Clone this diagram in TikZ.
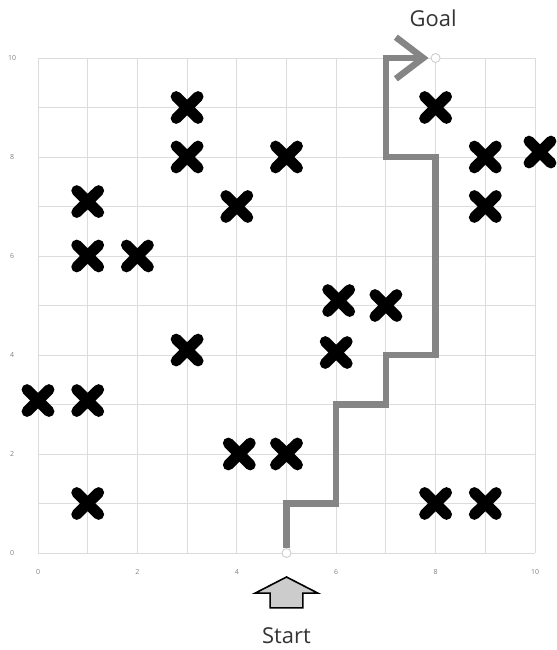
\documentclass[tikz,border=0pt]{standalone}
\usepackage{fontspec}
\setmainfont{Open Sans}
\definecolor{gridc}{HTML}{DCDCDC}
\definecolor{pathc}{HTML}{858585}
\definecolor{labc}{HTML}{333333}
\begin{document}
\begin{tikzpicture}[x=49.7bp,y=49.5bp,
  cross/.style={line width=11bp,line cap=round,black},
  route/.style={line width=6.5bp,pathc,line join=miter},
  ticklab/.style={font=\fontsize{7}{8}\selectfont,text=gray,inner sep=0pt},
  biglab/.style={font=\fontsize{22}{24}\selectfont,text=labc},
  endpt/.style={circle,draw=gridc!80!gray,fill=white,inner sep=0pt,minimum size=9bp,line width=0.8bp}]
\useasboundingbox (-0.7646,-1.9596) rectangle (10.4427,11.1717);
% grid
\foreach \i in {0,...,10}{
  \draw[gridc,line width=0.9bp] (\i,0) -- (\i,10);
  \draw[gridc,line width=0.9bp] (0,\i) -- (10,\i);
}
% tick labels
\foreach \v in {0,2,...,10}{
  \node[ticklab] (xl\v) at (\v,-0.38) {\v};
  \node[ticklab] (yl\v) at (-0.52,\v) {\v};
}
% obstacles
\foreach \p in {(3,9),(3,8),(5,8),(4,7),(1,7.1),(1,6),(2,6),(3,4.1),(0,3.08),(1,3.08),(1,1),(4.05,2),(5,2),(6.05,5.1),(7,5),(6,4.05),(8,9),(9,8),(10.1,8.1),(9,7),(8,1),(9,1)}{
  \draw[cross] \p ++(-0.22,-0.22) -- ++(0.44,0.44);
  \draw[cross] \p ++(-0.22,0.22) -- ++(0.44,-0.44);
}
% end points
\node[endpt] (start) at (5,0) {};
\node[endpt] (goal) at (8,10) {};
\coordinate (tip) at (7.75,10);
% route
\draw[route] (start.north) -- (5,1) -- (6,1) -- (6,3) -- (7,3) -- (7,4) -- (8,4) -- (8,8) -- (7,8) -- (7,10) -- (tip);
\draw[route] ([shift={(-0.55,0.42)}]tip) -- (tip) -- ([shift={(-0.55,-0.42)}]tip);
% start arrow
\draw[fill=gray!40,line width=1.6bp,line join=miter] (5,-0.485) -- (5.63,-0.81) -- (5.33,-0.81) -- (5.33,-1.11) -- (4.67,-1.11) -- (4.67,-0.81) -- (4.37,-0.81) -- cycle;
\node[biglab] (startlab) at (5,-1.66) {Start};
\node[biglab] (goallab) at (7.95,10.81) {Goal};
\end{tikzpicture}
\end{document}
